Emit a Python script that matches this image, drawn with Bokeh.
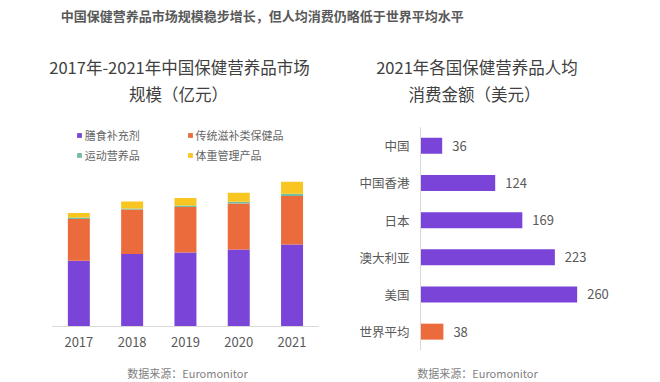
from bokeh.plotting import figure
from bokeh.models import Label, Legend, LegendItem, Range1d, ColumnDataSource
from bokeh.embed import file_html
from bokeh.resources import INLINE
from bokeh.core.properties import value

# ---- data ----
years = ["2017", "2018", "2019", "2020", "2021"]
seg_names = ["膳食补充剂", "传统滋补类保健品", "运动营养品", "体重管理产品"]
dietary = [657, 724, 740, 770, 820]
traditional = [417, 446, 454, 460, 484]
sports = [16, 10, 16, 17, 23]
weight = [44, 70, 74, 90, 120]

regions = ["中国", "中国香港", "日本", "澳大利亚", "美国", "世界平均"]
spend = [36, 124, 169, 223, 260, 38]

FONT = "Noto Sans CJK SC"
PURPLE = "#7A44D8"
ORANGE = "#EC6B3D"
GREEN = "#74BDA0"
YELLOW = "#F9C621"
TITLE_C = "#404040"
LABEL_C = "#595959"
SRC_C = "#7f7f7f"
AXIS_C = "#d9d9d9"

W, H = 660, 382

p = figure(width=W, height=H, output_backend="svg", toolbar_location=None,
           x_range=Range1d(-1.47, 10.913), y_range=Range1d(-560, 3260),
           x_axis_location=None, y_axis_location=None,
           min_border_left=0, min_border_right=0, min_border_top=0, min_border_bottom=0)
p.grid.visible = False
p.outline_line_color = None
p.extra_x_ranges = {"rx": Range1d(-697.0, 398.3)}
p.extra_y_ranges = {"ry": Range1d(6.368, -3.909)}


def lbl(x, y, text, size, color, bold=False):
    p.add_layout(Label(x=x, y=y, x_units="screen", y_units="screen", text=text,
                       text_font=FONT, text_font_size=size, text_color=color,
                       text_align="center", text_baseline="middle",
                       text_font_style="bold" if bold else "normal"))


# ---- left: stacked bars ----
xi = list(range(len(years)))
src = ColumnDataSource(dict(x=xi, year=years, zero=[0] * len(years),
                            a=dietary, b=traditional, c=sports, d=weight))
rs = p.vbar_stack(["a", "b", "c", "d"], x="x", width=0.4125, source=src,
                  color=[PURPLE, ORANGE, GREEN, YELLOW], line_width=0)
# baseline axis line
p.segment(x0=[-0.5], x1=[len(years) - 0.5], y0=[0], y1=[0], line_color=AXIS_C, line_width=1)
# year tick labels
p.text(x="x", y="zero", text="year", source=src, y_offset=15, text_align="center",
       text_baseline="middle", text_font=value(FONT), text_font_size="13px", text_color=LABEL_C)

for names, x in (((0, 2), 75.7), ((1, 3), 186.5)):
    leg = Legend(items=[LegendItem(label=seg_names[i], renderers=[rs[i]]) for i in names],
                 location=(x, 218.7), glyph_width=6, glyph_height=6, label_standoff=3,
                 label_height=14, label_width=10, spacing=4, padding=0, margin=0,
                 border_line_alpha=0, background_fill_alpha=0,
                 label_text_font=FONT, label_text_font_size="11px", label_text_color="#666666")
    p.add_layout(leg)

# ---- right: horizontal bars ----
yi = list(range(len(regions)))
colors = [PURPLE] * (len(regions) - 1) + [ORANGE]
hsrc = ColumnDataSource(dict(y=yi, region=regions, v=spend, zero=[0] * len(regions),
                             txt=[str(s) for s in spend], color=colors))
p.hbar(y="y", right="v", left=0, height=0.43, source=hsrc, color="color", line_width=0,
       x_range_name="rx", y_range_name="ry")
p.segment(x0=[0], x1=[0], y0=[-0.5], y1=[len(regions) - 0.5], line_color=AXIS_C, line_width=1,
          x_range_name="rx", y_range_name="ry")
p.text(x="v", y="y", text="txt", source=hsrc, x_offset=10, text_align="left",
       text_baseline="middle", text_font=value(FONT), text_font_size="13px", text_color=LABEL_C,
       x_range_name="rx", y_range_name="ry")
p.text(x="zero", y="y", text="region", source=hsrc, x_offset=-11, text_align="right",
       text_baseline="middle", text_font=value(FONT), text_font_size="12.5px", text_color=LABEL_C,
       x_range_name="rx", y_range_name="ry")

# ---- titles and sources ----
lbl(261.7, 367, "中国保健营养品市场规模稳步增长，但人均消费仍略低于世界平均水平", "13px", LABEL_C, bold=True)
lbl(179, 315.3, "2017年-2021年中国保健营养品市场", "16.5px", TITLE_C)
lbl(178, 289, "规模（亿元）", "16.5px", TITLE_C)
lbl(476.5, 315.3, "2021年各国保健营养品人均", "16.5px", TITLE_C)
lbl(474, 289, "消费金额（美元）", "16.5px", TITLE_C)
lbl(187, 10, "数据来源：Euromonitor", "11px", SRC_C)
lbl(477, 10, "数据来源：Euromonitor", "11px", SRC_C)

open("out.html", "w").write(file_html(p, INLINE))
